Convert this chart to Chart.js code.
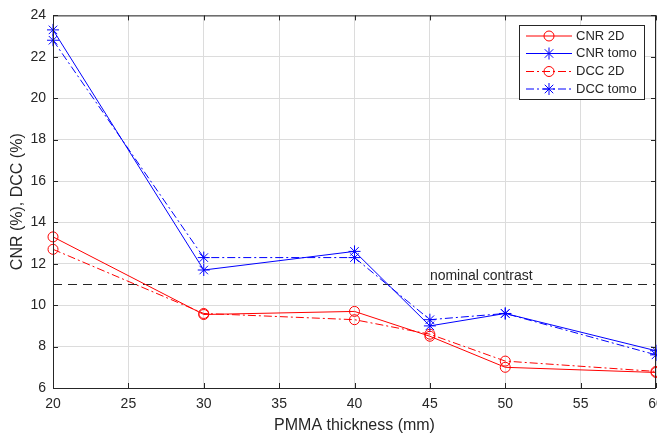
<!DOCTYPE html>
<html><head><meta charset="utf-8">
<script src="https://cdn.jsdelivr.net/npm/chart.js@4.4.1/dist/chart.umd.min.js"></script>
<style>html,body{margin:0;padding:0;overflow:hidden;background:#fff;width:657px;height:439px}#wrap{width:690px;height:439px}</style>
</head><body><div id="wrap"><canvas id="c" width="690" height="439"></canvas></div>
<script>
const thickness = [20, 30, 40, 45, 50, 60];
const cnr2D   = [13.3, 9.55, 9.7, 8.5, 7.0, 6.75];
const cnrTomo = [23.3, 11.7, 12.6, 9.0, 9.6, 7.8];
const dcc2D   = [12.7, 9.6, 9.3, 8.6, 7.3, 6.8];
const dccTomo = [22.8, 12.3, 12.3, 9.3, 9.6, 7.6];
const nominalContrast = 11;
const nominalLabel = 'nominal contrast';
const xTicks = [20, 25, 30, 35, 40, 45, 50, 55, 60];
const yTicks = [6, 8, 10, 12, 14, 16, 18, 20, 22, 24];
const seriesNames = ['CNR 2D', 'CNR tomo', 'DCC 2D', 'DCC tomo'];

const FONT = 'Liberation Sans, Arial, Helvetica, sans-serif';
const AX = '#262626';
const dashDot = [8, 3, 2, 3];
const pts = arr => thickness.map((x, i) => ({x, y: arr[i]}));

function ds(label, data, color, style, dash) {
  return {label, data: pts(data), borderColor: color, backgroundColor: 'rgba(0,0,0,0)',
    borderWidth: 1, borderDash: dash, pointStyle: style, pointRadius: style === 'star' ? 6 : 5,
    pointBorderColor: color, pointBorderWidth: 1, pointBackgroundColor: 'rgba(0,0,0,0)',
    tension: 0, clip: false, showLine: true};
}

const boxPlugin = {
  id: 'box',
  afterDatasetsDraw(chart) {
    const {ctx, chartArea: a, scales} = chart;
    ctx.save();
    ctx.fillStyle = AX; ctx.font = '14px ' + FONT; ctx.textBaseline = 'alphabetic'; ctx.textAlign = 'left';
    ctx.fillText(nominalLabel, scales.x.getPixelForValue(45), scales.y.getPixelForValue(nominalContrast) - 5);
    ctx.strokeStyle = AX; ctx.lineWidth = 1; ctx.setLineDash([]);
    ctx.strokeRect(a.left + 0.5, a.top + 0.5, a.right - a.left - 1, a.bottom - a.top);
    ctx.beginPath();
    xTicks.forEach(v => { const p = Math.round(scales.x.getPixelForValue(v)) + 0.5;
      ctx.moveTo(p, a.bottom); ctx.lineTo(p, a.bottom - 5); ctx.moveTo(p, a.top); ctx.lineTo(p, a.top + 5); });
    yTicks.forEach(v => { const p = Math.round(scales.y.getPixelForValue(v)) + 0.5;
      ctx.moveTo(a.left, p); ctx.lineTo(a.left + 5, p); ctx.moveTo(a.right, p); ctx.lineTo(a.right - 5, p); });
    ctx.stroke();
    const lx = 519, ly = 25, lw = 125, lh = 74;
    ctx.fillStyle = '#fff'; ctx.fillRect(lx, ly, lw, lh);
    ctx.strokeStyle = AX; ctx.strokeRect(lx + 0.5, ly + 0.5, lw, lh);
    const rows = [36, 53.5, 71.5, 89];
    chart.data.datasets.slice(0, 4).forEach((d, i) => {
      const y = rows[i];
      ctx.strokeStyle = d.borderColor; ctx.lineWidth = 1; ctx.setLineDash(d.borderDash || []);
      ctx.beginPath(); ctx.moveTo(526, y); ctx.lineTo(572, y); ctx.stroke();
      ctx.setLineDash([]);
      ctx.strokeStyle = d.borderColor; ctx.fillStyle = 'rgba(0,0,0,0)';
      Chart.helpers.drawPoint(ctx, {pointStyle: d.pointStyle, radius: d.pointRadius, rotation: 0, borderWidth: 1}, 549, y);
      ctx.fillStyle = AX; ctx.font = '13px ' + FONT; ctx.textBaseline = 'middle'; ctx.textAlign = 'left';
      ctx.fillText(d.label, 576, y);
    });
    ctx.restore();
  }
};

new Chart(document.getElementById('c'), {
  type: 'line',
  data: {datasets: [
    ds(seriesNames[0], cnr2D, '#ff0000', 'circle', []),
    ds(seriesNames[1], cnrTomo, '#0000ff', 'star', []),
    ds(seriesNames[2], dcc2D, '#ff0000', 'circle', dashDot),
    ds(seriesNames[3], dccTomo, '#0000ff', 'star', dashDot),
    {label: 'nominal', data: [{x: xTicks[0], y: nominalContrast}, {x: xTicks[xTicks.length-1], y: nominalContrast}],
     borderColor: AX, borderWidth: 1, borderDash: [9, 6], pointRadius: 0, tension: 0, order: 10}
  ]},
  options: {
    responsive: false, animation: false,
    layout: {padding: {left: 0, top: 11, right: 34, bottom: 0}},
    plugins: {legend: {display: false}, tooltip: {enabled: false}},
    scales: {
      x: {type: 'linear', min: 20, max: 60,
        afterBuildTicks: s => { s.ticks = xTicks.map(v => ({value: v})); },
        afterFit: s => { s.height = 51; },
        grid: {color: '#dcdcdc', drawTicks: false}, border: {display: false},
        ticks: {color: AX, font: {family: FONT, size: 14}, padding: 8, maxRotation: 0},
        title: {display: true, text: 'PMMA thickness (mm)', color: AX, font: {family: FONT, size: 16}, padding: {top: 0, bottom: 4}}
      },
      y: {type: 'linear', min: 6, max: 24,
        afterBuildTicks: s => { s.ticks = yTicks.map(v => ({value: v})); },
        afterFit: s => { s.width = 53; },
        grid: {color: '#dcdcdc', drawTicks: false}, border: {display: false},
        ticks: {color: AX, font: {family: FONT, size: 14}, padding: 7},
        title: {display: true, text: 'CNR (%), DCC (%)', color: AX, font: {family: FONT, size: 16}, padding: {top: 8, bottom: 4}}
      }
    }
  },
  plugins: [boxPlugin]
});
</script></body></html>
